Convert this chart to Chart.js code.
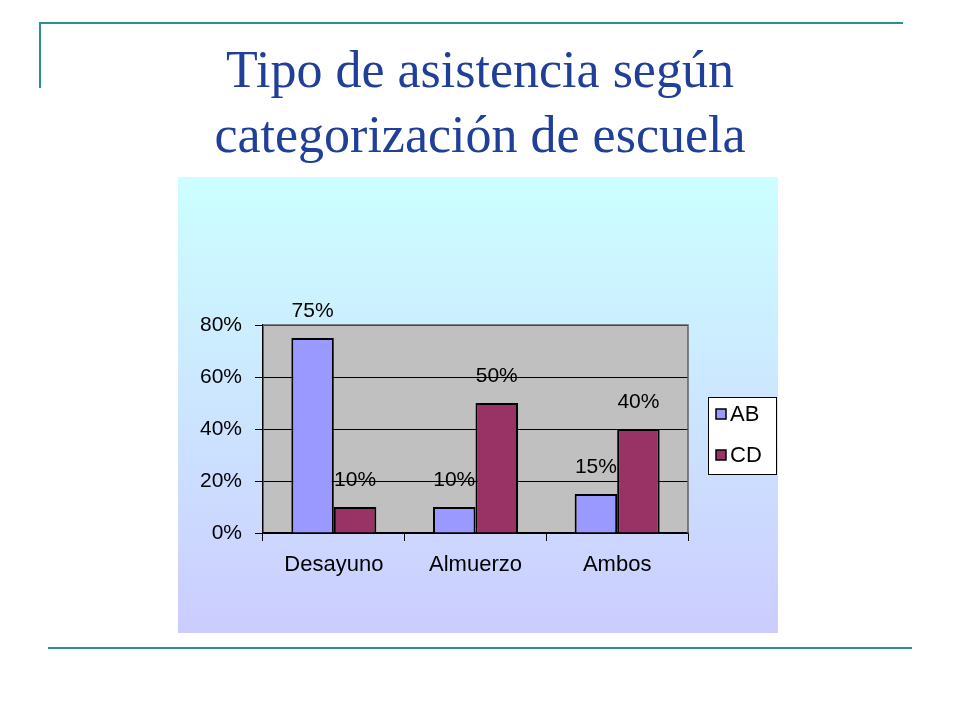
<!DOCTYPE html>
<html><head><meta charset="utf-8">
<script src="https://cdn.jsdelivr.net/npm/chart.js@4/dist/chart.umd.min.js"></script>
<style>
html,body{margin:0;padding:0;background:#fff;width:960px;height:720px;overflow:hidden;position:relative;font-family:"Liberation Sans",Arial,sans-serif}
.ln{position:absolute;background:#2e8f8f}
#title{position:absolute;left:0;top:37px;width:960px;text-align:center;font-family:"Liberation Serif","DejaVu Serif",serif;font-size:52px;line-height:65px;color:#1f3f99}
#wrap{position:absolute;left:178px;top:177px;width:600px;height:456px}
</style></head><body>
<div class="ln" style="left:40px;top:22px;width:863px;height:2px"></div>
<div class="ln" style="left:39px;top:22px;width:2px;height:66px"></div>
<div class="ln" style="left:48px;top:647px;width:864px;height:2px"></div>
<div id="title">Tipo de asistencia según<br>categorización de escuela</div>
<div id="wrap"><canvas id="c"></canvas></div>
<script>
const categories = ["Desayuno", "Almuerzo", "Ambos"];
const seriesNames = ["AB", "CD"];
const abValues = [75, 10, 15];
const cdValues = [10, 50, 40];
const yTicks = [0, 20, 40, 60, 80];

const bgPlugin = {
  id: 'bg',
  beforeDraw(chart) {
    const ctx = chart.ctx, w = chart.width, h = chart.height;
    const g = ctx.createLinearGradient(0, 0, 0, h);
    g.addColorStop(0, '#ccffff');
    g.addColorStop(1, '#ccccff');
    ctx.save();
    ctx.fillStyle = g;
    ctx.fillRect(0, 0, w, h);
    const a = chart.chartArea;
    ctx.fillStyle = '#c0c0c0';
    ctx.fillRect(a.left, a.top, a.right - a.left, a.bottom - a.top);
    ctx.restore();
  },
  afterDraw(chart) {
    const ctx = chart.ctx, a = chart.chartArea;
    ctx.save();
    ctx.strokeStyle = '#606060';
    ctx.lineWidth = 1.5;
    ctx.beginPath();
    ctx.moveTo(a.left, a.top); ctx.lineTo(a.right, a.top); ctx.lineTo(a.right, a.bottom);
    ctx.stroke();
    // legend
    const lx = 530, ly = 220, lw = 68, lh = 77;
    ctx.fillStyle = '#ffffff';
    ctx.fillRect(lx, ly, lw, lh);
    ctx.strokeStyle = '#000';
    ctx.lineWidth = 1;
    ctx.strokeRect(lx + 0.5, ly + 0.5, lw, lh);
    ctx.font = '22px "Liberation Sans", Arial, sans-serif';
    ctx.textBaseline = 'middle';
    chart.data.datasets.forEach((ds, i) => {
      const y = ly + 17 + i * 41;
      ctx.fillStyle = ds.backgroundColor;
      ctx.fillRect(lx + 8, y - 5, 10, 10);
      ctx.strokeStyle = '#000';
      ctx.lineWidth = 1.5;
      ctx.strokeRect(lx + 8, y - 5, 10, 10);
      ctx.fillStyle = '#000';
      ctx.textAlign = 'left';
      ctx.fillText(ds.label, lx + 22, y + 1);
    });
    ctx.restore();
  },
  afterDatasetsDraw(chart) {
    const ctx = chart.ctx;
    ctx.save();
    ctx.font = '21px "Liberation Sans", Arial, sans-serif';
    ctx.fillStyle = '#000';
    ctx.textAlign = 'center';
    ctx.textBaseline = 'middle';
    chart.data.datasets.forEach((ds, di) => {
      const meta = chart.getDatasetMeta(di);
      meta.data.forEach((bar, i) => {
        ctx.fillText(ds.data[i] + '%', bar.x, bar.y - 27);
      });
    });
    ctx.restore();
  }
};

new Chart(document.getElementById('c'), {
  type: 'bar',
  data: {
    labels: categories,
    datasets: [
      { label: seriesNames[0], data: abValues, backgroundColor: '#9999ff', borderColor: '#000', borderWidth: 2 },
      { label: seriesNames[1], data: cdValues, backgroundColor: '#993366', borderColor: '#000', borderWidth: 2 }
    ]
  },
  options: {
    responsive: true,
    maintainAspectRatio: false,
    animation: false,
    layout: { padding: { left: 0, right: 90, top: 148, bottom: 0 } },
    datasets: { bar: { barPercentage: 1, categoryPercentage: 0.6 } },
    plugins: { legend: { display: false }, tooltip: { enabled: false }, title: { display: false } },
    scales: {
      x: {
        grid: { drawOnChartArea: false, drawTicks: true, tickLength: 8, offset: true, color: '#000', lineWidth: 1 },
        border: { color: '#000', width: 1.5 },
        ticks: { color: '#000', font: { family: '"Liberation Sans", Arial, sans-serif', size: 22 }, padding: 11, maxRotation: 0 },
        afterFit(s) { s.height = 100; }
      },
      y: {
        min: 0, max: 80,
        afterBuildTicks(s) { s.ticks = yTicks.map(v => ({ value: v })); },
        grid: { color: '#000', lineWidth: 1, drawTicks: true, tickLength: 8 },
        border: { color: '#000', width: 1.5 },
        ticks: { color: '#000', font: { family: '"Liberation Sans", Arial, sans-serif', size: 21 }, padding: 13, callback: v => v + '%' },
        afterFit(s) { s.width = 85; }
      }
    }
  },
  plugins: [bgPlugin]
});
</script>
</body></html>
